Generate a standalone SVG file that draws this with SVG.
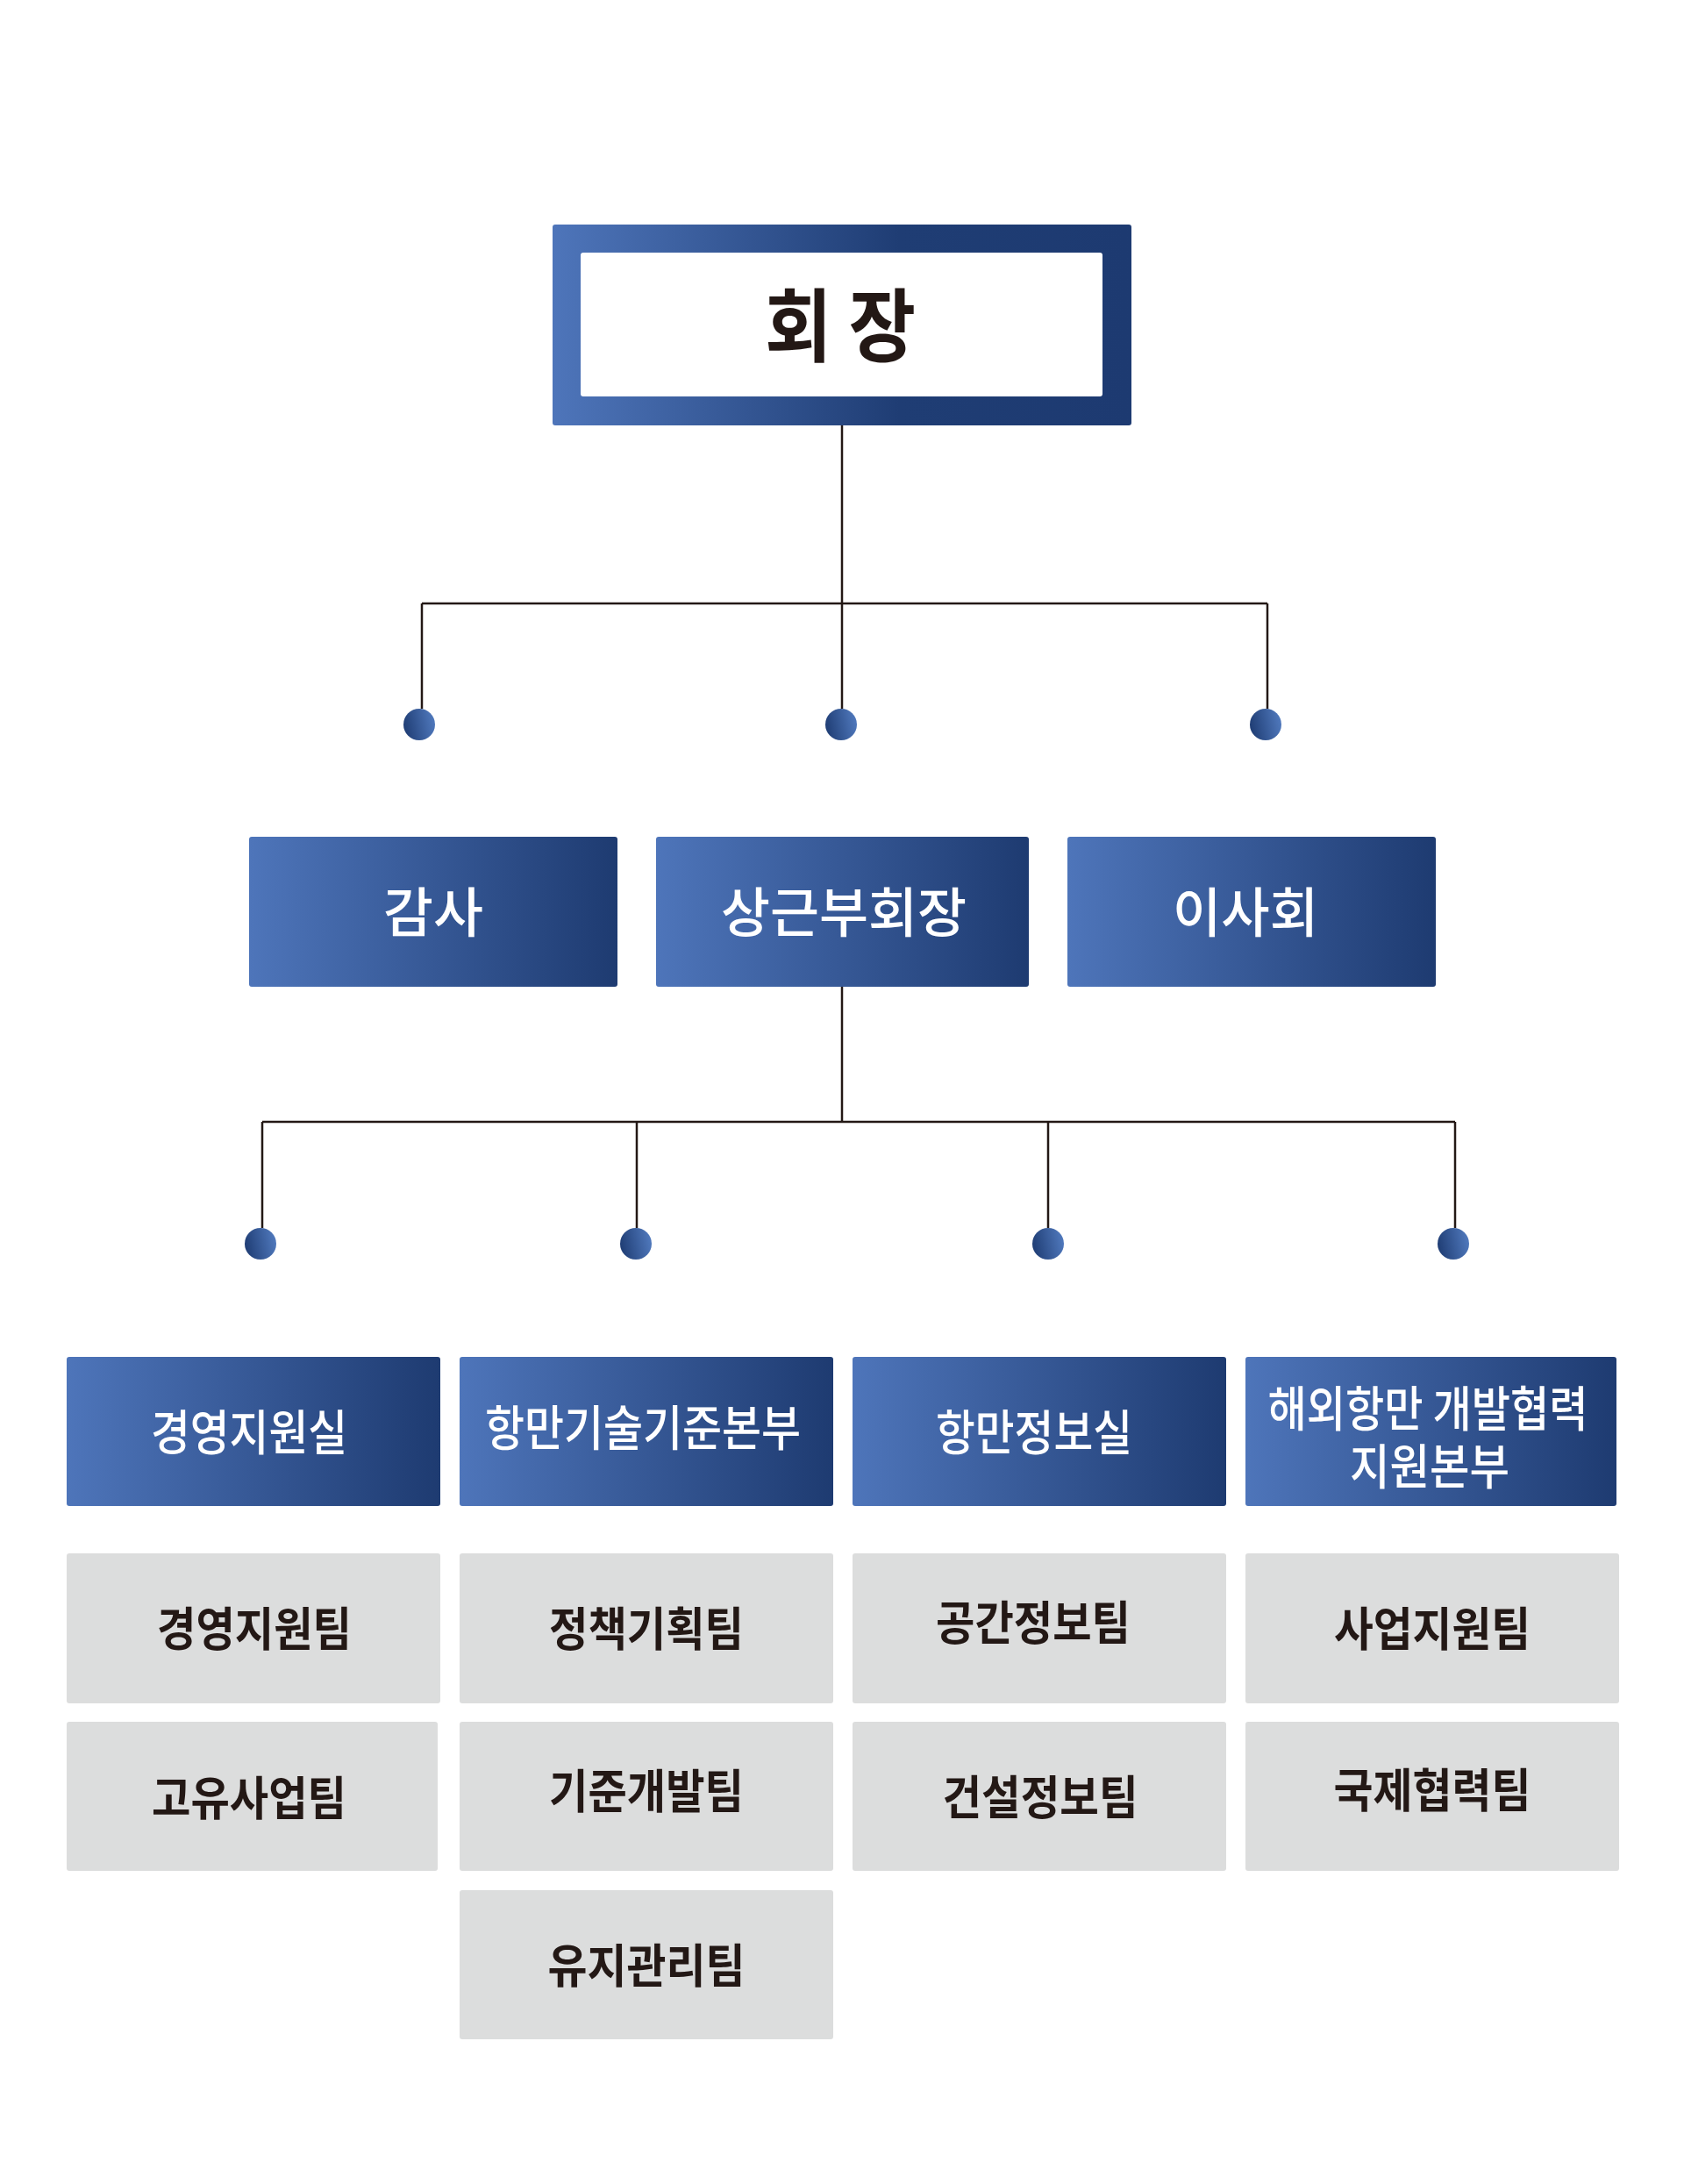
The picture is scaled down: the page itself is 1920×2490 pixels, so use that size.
<svg xmlns="http://www.w3.org/2000/svg" width="1920" height="2490" viewBox="0 0 1920 2490">
<defs>
<linearGradient id="gBlue" x1="0" y1="0" x2="1" y2="0">
<stop offset="0" stop-color="#4e75ba"/>
<stop offset="1" stop-color="#1e3b71"/>
</linearGradient>
<linearGradient id="gTop" x1="0" y1="0" x2="1" y2="0">
<stop offset="0" stop-color="#4e75ba"/>
<stop offset="0.6" stop-color="#1f3d74"/>
<stop offset="1" stop-color="#1d3a71"/>
</linearGradient>
<linearGradient id="gDot" x1="0" y1="0.6" x2="1" y2="0.4">
<stop offset="0" stop-color="#1f3d74"/>
<stop offset="1" stop-color="#5079bd"/>
</linearGradient>
</defs>
<style>
.blue{fill:url(#gBlue)}
.gray{fill:#dcdddd}
.wt{fill:#ffffff;font-family:"Noto Sans CJK KR","Noto Sans",sans-serif;font-weight:500;text-anchor:middle}
.dt{fill:#231815;font-family:"Noto Sans CJK KR","Noto Sans",sans-serif;font-weight:600;text-anchor:middle}
.ln{stroke:#231815;stroke-width:2.5;fill:none}
.dot{fill:url(#gDot)}
</style>
<rect width="1920" height="2490" fill="#ffffff"/>

<g id="connectors">
<path class="ln" d="M960 484 V808 M481 688 H1445 M481 688 V808 M1445 688 V808"/>
<circle class="dot" cx="478" cy="826" r="18"/>
<circle class="dot" cx="959" cy="826" r="18"/>
<circle class="dot" cx="1443" cy="826" r="18"/>
<path class="ln" d="M960 1125 V1279 M299 1279 H1659 M299 1279 V1400 M726 1279 V1400 M1195 1279 V1400 M1659 1279 V1400"/>
<circle class="dot" cx="297" cy="1418" r="18"/>
<circle class="dot" cx="725" cy="1418" r="18"/>
<circle class="dot" cx="1195" cy="1418" r="18"/>
<circle class="dot" cx="1657" cy="1418" r="18"/>
</g>

<g id="n-president">
<rect x="630" y="256" width="660" height="229" rx="3" fill="url(#gTop)"/>
<rect x="662" y="288" width="595" height="164" rx="3" fill="#ffffff"/>
<text class="dt" x="958" y="405" font-size="91" font-weight="500" textLength="172" lengthAdjust="spacingAndGlyphs">회 장</text>
</g>

<g id="n-audit">
<rect class="blue" x="284" y="954" width="420" height="171" rx="3"/>
<text class="wt" x="494" y="1063" font-size="61" textLength="114" lengthAdjust="spacingAndGlyphs">감사</text>
</g>
<g id="n-vice">
<rect class="blue" x="748" y="954" width="425" height="171" rx="3"/>
<text class="wt" x="962" y="1063" font-size="61" textLength="280" lengthAdjust="spacingAndGlyphs">상근부회장</text>
</g>
<g id="n-board">
<rect class="blue" x="1217" y="954" width="420" height="171" rx="3"/>
<text class="wt" x="1420" y="1063" font-size="61" textLength="166" lengthAdjust="spacingAndGlyphs">이사회</text>
</g>

<g id="n-mgmt">
<rect class="blue" x="76" y="1547" width="426" height="170" rx="3"/>
<text class="wt" x="284" y="1653" font-size="55" textLength="224" lengthAdjust="spacingAndGlyphs">경영지원실</text>
</g>
<g id="n-tech">
<rect class="blue" x="524" y="1547" width="426" height="170" rx="3"/>
<text class="wt" x="733" y="1648" font-size="55" textLength="360" lengthAdjust="spacingAndGlyphs">항만기술기준본부</text>
</g>
<g id="n-info">
<rect class="blue" x="972" y="1547" width="426" height="170" rx="3"/>
<text class="wt" x="1179" y="1653" font-size="55" textLength="224" lengthAdjust="spacingAndGlyphs">항만정보실</text>
</g>
<g id="n-overseas">
<rect class="blue" x="1420" y="1547" width="423" height="170" rx="3"/>
<text class="wt" font-size="55"><tspan x="1628" y="1626" textLength="365" lengthAdjust="spacingAndGlyphs">해외항만 개발협력</tspan><tspan x="1630" y="1692" textLength="182" lengthAdjust="spacingAndGlyphs">지원본부</tspan></text>
</g>

<g id="t-mgmt-support">
<rect class="gray" x="76" y="1771" width="426" height="171" rx="3"/>
<text class="dt" x="290" y="1877" font-size="53" textLength="222" lengthAdjust="spacingAndGlyphs">경영지원팀</text>
</g>
<g id="t-own-business">
<rect class="gray" x="76" y="1963" width="423" height="170" rx="3"/>
<text class="dt" x="284" y="2070" font-size="53" textLength="222" lengthAdjust="spacingAndGlyphs">고유사업팀</text>
</g>
<g id="t-policy">
<rect class="gray" x="524" y="1771" width="426" height="171" rx="3"/>
<text class="dt" x="737" y="1877" font-size="53" textLength="222" lengthAdjust="spacingAndGlyphs">정책기획팀</text>
</g>
<g id="t-standard">
<rect class="gray" x="524" y="1963" width="426" height="170" rx="3"/>
<text class="dt" x="737" y="2062" font-size="53" textLength="222" lengthAdjust="spacingAndGlyphs">기준개발팀</text>
</g>
<g id="t-maintenance">
<rect class="gray" x="524" y="2155" width="426" height="170" rx="3"/>
<text class="dt" x="737" y="2261" font-size="53" textLength="225" lengthAdjust="spacingAndGlyphs">유지관리팀</text>
</g>
<g id="t-spatial">
<rect class="gray" x="972" y="1771" width="426" height="171" rx="3"/>
<text class="dt" x="1178" y="1870" font-size="53" textLength="222" lengthAdjust="spacingAndGlyphs">공간정보팀</text>
</g>
<g id="t-construction">
<rect class="gray" x="972" y="1963" width="426" height="170" rx="3"/>
<text class="dt" x="1186" y="2069" font-size="53" textLength="223" lengthAdjust="spacingAndGlyphs">건설정보팀</text>
</g>
<g id="t-business-support">
<rect class="gray" x="1420" y="1771" width="426" height="171" rx="3"/>
<text class="dt" x="1633" y="1877" font-size="53" textLength="224" lengthAdjust="spacingAndGlyphs">사업지원팀</text>
</g>
<g id="t-international">
<rect class="gray" x="1420" y="1963" width="426" height="170" rx="3"/>
<text class="dt" x="1633" y="2061" font-size="53" textLength="225" lengthAdjust="spacingAndGlyphs">국제협력팀</text>
</g>
</svg>
